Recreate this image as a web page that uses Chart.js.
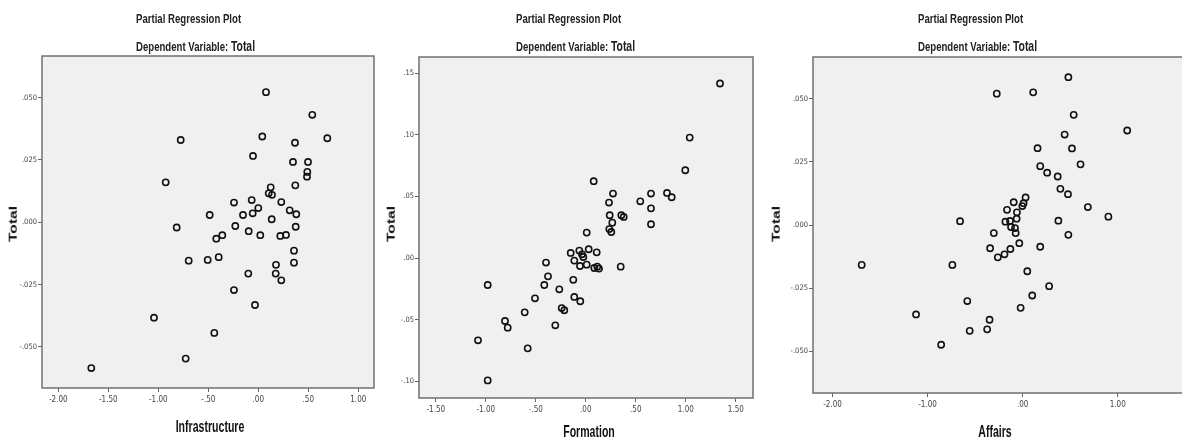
<!DOCTYPE html>
<html>
<head>
<meta charset="utf-8">
<script src="https://cdn.jsdelivr.net/npm/chart.js@4.4.0/dist/chart.umd.min.js"></script>
<style>
  html, body { margin: 0; padding: 0; background: #fff; overflow: hidden; }
  body { width: 1182px; height: 440px; position: relative; }
  .panel { position: absolute; top: 0; height: 440px; }
  .head {
    position: absolute;
    font-family: 'Liberation Sans', Arial, sans-serif;
    font-weight: bold;
    font-size: 12px;
    line-height: 14px;
    color: #222;
    white-space: nowrap;
    transform-origin: left center;
    transform: scale(0.8, 1.08);
  }
  .head b { font-size: 13px; }
  .axis-title {
    position: absolute;
    font-family: 'Liberation Sans', Arial, sans-serif;
    font-weight: bold;
    color: #111;
    white-space: nowrap;
    line-height: 1;
  }
  .axis-title.x { font-size: 16px; transform: translate(-50%, -50%) scale(0.66, 1.08); }
  .axis-title.y { font-size: 12px; transform: translate(-50%, -50%) rotate(-90deg) scale(1.3, 0.9); }
</style>
</head>
<body>

<div class="panel" style="left:0;width:390px"><canvas id="plotInfra"></canvas></div>
<div class="panel" style="left:378px;width:390px"><canvas id="plotForm"></canvas></div>
<div class="panel" style="left:768px;width:420px"><canvas id="plotAff"></canvas></div>

<div class="head" style="left:136px;top:12px">Partial Regression Plot</div>
<div class="head" style="left:136px;top:40px">Dependent Variable: <b>Total</b></div>
<div class="head" style="left:516px;top:12px">Partial Regression Plot</div>
<div class="head" style="left:516px;top:40px">Dependent Variable: <b>Total</b></div>
<div class="head" style="left:918px;top:12px">Partial Regression Plot</div>
<div class="head" style="left:918px;top:40px">Dependent Variable: <b>Total</b></div>

<div class="axis-title x" style="left:210px;top:427px">Infrastructure</div>
<div class="axis-title x" style="left:589px;top:432px">Formation</div>
<div class="axis-title x" style="left:995px;top:432px">Affairs</div>
<div class="axis-title y" style="left:13px;top:224px">Total</div>
<div class="axis-title y" style="left:391px;top:224px">Total</div>
<div class="axis-title y" style="left:776px;top:224px">Total</div>

<script>
// partial residuals: Infrastructure vs Total
const infraX = [0.077, 0.54, -0.776, 0.04, 0.367, 0.69, -0.053, 0.347, 0.497, 0.49, 0.487, -0.926, 0.124, 0.104, 0.137, 0.37, 0.23, -0.243, -0.066, 0.0, -0.056, -0.153, -0.486, 0.314, 0.38, 0.134,
  -0.816, -0.23, -0.096, 0.02, -0.42, -0.36, 0.22, 0.277, 0.374, 0.357, 0.357, -0.696, -0.506, -0.396, 0.177, 0.174, -0.1, 0.23, -0.243, -0.033, -1.043, -0.44, -0.726, -1.67];
const infraY = [0.0522, 0.0431, 0.033, 0.0344, 0.0319, 0.0337, 0.0266, 0.0242, 0.0242, 0.0202, 0.0183, 0.016, 0.014, 0.0116, 0.011, 0.0148, 0.0081, 0.0079, 0.0089, 0.0057, 0.0036, 0.0029, 0.0029, 0.0048, 0.0032, 0.0012,
  -0.0021, -0.0015, -0.0036, -0.0052, -0.0066, -0.0052, -0.0055, -0.0051, -0.0018, -0.0114, -0.0162, -0.0154, -0.0151, -0.014, -0.0171, -0.0206, -0.0206, -0.0233, -0.0272, -0.0332, -0.0383, -0.0444, -0.0547, -0.0585];

// Formation vs Total
const formX = [1.342, 1.039, 0.995, 0.079, 0.272, 0.232, 0.545, 0.652, 0.812, 0.859, 0.652, 0.239, 0.355, 0.379, 0.265, 0.235, 0.255, 0.652, 0.009,
  -0.151, -0.065, -0.038, -0.025, 0.029, 0.109, -0.115, -0.058, 0.009, 0.085, 0.115, 0.132, 0.349,
  -0.398, -0.378, -0.125, -0.415, -0.981, -0.265, -0.508, -0.115, -0.055, -0.611, -0.241, -0.215, -0.808, -0.781, -0.305, -1.078, -0.581, -0.981];
const formY = [0.1416, 0.0977, 0.0712, 0.0623, 0.0523, 0.045, 0.046, 0.0523, 0.0528, 0.0493, 0.0403, 0.0347, 0.0347, 0.0333, 0.0287, 0.0235, 0.0211, 0.0274, 0.0206,
  0.0041, 0.006, 0.003, 0.0008, 0.0071, 0.0046, -0.0021, -0.0065, -0.0054, -0.0081, -0.007, -0.0086, -0.007,
  -0.0037, -0.0149, -0.0177, -0.0219, -0.0219, -0.0254, -0.0327, -0.0316, -0.0351, -0.0441, -0.0406, -0.0424, -0.0511, -0.0565, -0.0546, -0.0668, -0.0733, -0.0993];

// Affairs vs Total
const affX = [0.481, -0.272, 0.111, 0.537, 0.442, 1.1, 0.157, 0.519, 0.609, 0.185, 0.258, 0.369, 0.397, 0.477, 0.686, 0.902,
  0.031, -0.003, 0.01, -0.094, -0.164, -0.06, -0.063, -0.181, -0.133, -0.122, -0.08, -0.073, -0.303, -0.658, 0.376, 0.481, -0.035, -0.342, 0.185, -0.129, -0.191, -0.261, -0.739, 0.049,
  -1.693, 0.279, 0.101, -0.582, -0.021, -1.121, -0.348, -0.373, -0.557, -0.857];
const affY = [0.0585, 0.052, 0.0525, 0.0436, 0.0358, 0.0374, 0.0304, 0.0303, 0.024, 0.0233, 0.0207, 0.0192, 0.0143, 0.0122, 0.0071, 0.0033,
  0.0109, 0.0075, 0.0086, 0.009, 0.006, 0.005, 0.0025, 0.0013, 0.0016, -0.0008, -0.0012, -0.0032, -0.0032, 0.0015, 0.0017, -0.0039, -0.0072, -0.0092, -0.0086, -0.0095, -0.0116, -0.0128, -0.0158, -0.0183,
  -0.0158, -0.0242, -0.0279, -0.0301, -0.0328, -0.0354, -0.0375, -0.0413, -0.0419, -0.0474];

// tick values
const infraXTicks = [-2, -1.5, -1, -0.5, 0, 0.5, 1];
const formXTicks = [-1.5, -1, -0.5, 0, 0.5, 1, 1.5];
const affXTicks = [-2, -1, 0, 1];
const totalTicksA = [-0.05, -0.025, 0, 0.025, 0.05];
const totalTicksB = [-0.1, -0.05, 0, 0.05, 0.1, 0.15];

const narrow = "'DejaVu Sans Condensed', 'Liberation Sans Narrow', sans-serif";

// SPSS style numbers: no leading zero
function spss(v, d) {
  const s = Math.abs(v).toFixed(d).replace(/^0\./, '.');
  return (v < 0 ? '-' : '') + s;
}

const plotFrame = {
  id: 'plotFrame',
  beforeDraw(chart) {
    const { ctx, chartArea: a } = chart;
    ctx.save();
    ctx.fillStyle = '#f0f0f0';
    ctx.fillRect(a.left, a.top, a.right - a.left, a.bottom - a.top);
    ctx.restore();
  },
  beforeDatasetsDraw(chart) {
    const { ctx, chartArea: a } = chart;
    ctx.save();
    ctx.strokeStyle = '#707070';
    ctx.lineWidth = 1.5;
    ctx.strokeRect(a.left, a.top, a.right - a.left, a.bottom - a.top);
    ctx.restore();
  }
};

function makePanel(id, xs, ys, cfg) {
  const points = xs.map((x, i) => ({ x: x, y: ys[i] }));
  return new Chart(document.getElementById(id), {
    type: 'scatter',
    data: {
      datasets: [{
        data: points,
        pointRadius: 3.1,
        pointHoverRadius: 3.1,
        pointBorderWidth: 1.6,
        pointBorderColor: '#111',
        pointBackgroundColor: 'rgba(0,0,0,0)'
      }]
    },
    options: {
      responsive: true,
      maintainAspectRatio: false,
      animation: false,
      events: [],
      layout: { padding: { top: cfg.top, right: cfg.right, left: 0, bottom: 0 } },
      plugins: { legend: { display: false }, tooltip: { enabled: false } },
      scales: {
        x: {
          type: 'linear',
          min: cfg.xMin,
          max: cfg.xMax,
          afterBuildTicks: s => { s.ticks = cfg.xTicks.map(v => ({ value: v })); },
          afterFit: s => { s.height = cfg.xHeight; },
          grid: { drawOnChartArea: false, tickLength: 4, tickColor: '#666', tickWidth: 1 },
          border: { display: false },
          ticks: {
            autoSkip: false, maxRotation: 0, padding: 3, color: '#444',
            font: { family: narrow, size: 8 },
            callback: v => spss(v, 2)
          }
        },
        y: {
          type: 'linear',
          min: cfg.yMin,
          max: cfg.yMax,
          afterBuildTicks: s => { s.ticks = cfg.yTicks.map(v => ({ value: v })); },
          afterFit: s => { s.width = cfg.yWidth; },
          grid: { drawOnChartArea: false, tickLength: 4, tickColor: '#666', tickWidth: 1 },
          border: { display: false },
          ticks: {
            autoSkip: false, padding: 1, color: '#444',
            font: { family: narrow, size: 7.5 },
            callback: v => spss(v, cfg.yDec)
          }
        }
      }
    },
    plugins: [plotFrame]
  });
}

makePanel('plotInfra', infraX, infraY, {
  top: 56, right: 16, xHeight: 52, yWidth: 42,
  xMin: -2.163, xMax: 1.157, yMin: -0.0665, yMax: 0.0667,
  xTicks: infraXTicks, yTicks: totalTicksA, yDec: 3
});

makePanel('plotForm', formX, formY, {
  top: 57, right: 15, xHeight: 42, yWidth: 41,
  xMin: -1.668, xMax: 1.672, yMin: -0.1136, yMax: 0.1631,
  xTicks: formXTicks, yTicks: totalTicksB, yDec: 2
});

makePanel('plotAff', affX, affY, {
  top: 57, right: 2, xHeight: 47, yWidth: 45,
  xMin: -2.205, xMax: 1.69, yMin: -0.0665, yMax: 0.0665,
  xTicks: affXTicks, yTicks: totalTicksA, yDec: 3
});
</script>
</body>
</html>
